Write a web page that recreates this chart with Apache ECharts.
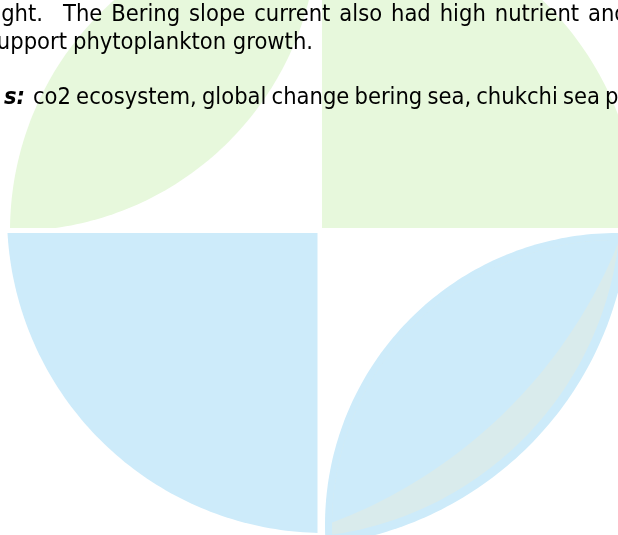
<!DOCTYPE html>
<html>
<head>
<meta charset="utf-8">
<script src="https://cdn.jsdelivr.net/npm/echarts@6/dist/echarts.min.js"></script>
<style>html,body{margin:0;padding:0;background:#fff}#c{width:618px;height:535px}</style>
</head>
<body>
<div id="c"></div>
<script>
// ---- content (text) ----
const line1Words = ['ght.', 'The', 'Bering', 'slope', 'current', 'also', 'had', 'high', 'nutrient', 'and'];
const line2Words = ['upport', 'phytoplankton', 'growth.'];
const keywordLabel = 's:';
const keywordWords = ['co2', 'ecosystem,', 'global', 'change', 'bering', 'sea,', 'chukchi', 'sea', 'p'];

// ---- logo pieces ----
const pieces = ['top-left leaf', 'top-right quarter', 'bottom-left quarter', 'bottom-right leaf', 'leaf vein', 'leaf body'];

// ---- layout (positions, sizes, styles) ----
const line1FirstRight = 43;   // end of the cut first word
const line1Span = [63, 588];  // start of 2nd word, start of last word (justified)
const line2FirstRight = 67;
const line2Start = 73;
const keywordLabelRight = 25;
const keywordSpan = [33, 605];
const baselines = [21.5, 50, 105];
const FONT = '"DejaVu Sans Condensed", "Liberation Sans", sans-serif';
const FS = 23.5;

const GREEN = '#e7f8dc', BLUE = '#cdebfa', VEIN = '#d9ebec';
const pieceColors = [GREEN, GREEN, BLUE, BLUE, VEIN, BLUE];

// geometry in axis units (axis spans the whole canvas)
const disc = (cx, cy, r) => ({ t: 'disc', cx, cy, r });
const half = (f) => ({ t: 'half', f });
const pieceGeom = [
  [disc(318, 231, 308), disc(13, -74, 305), half(p => 228 - p[1]), half(p => 318 - p[0])],
  [disc(322, 228, 317), half(p => 228 - p[1]), half(p => p[0] - 322)],
  [disc(325, 215, 318), half(p => p[1] - 233), half(p => 317.5 - p[0])],
  [disc(285, 202, 345), disc(617, 525, 292), half(p => p[1] - 233), half(p => p[0] - 322)],
  [disc(285, 202, 336), disc(617, 525, 285), half(p => p[1] - 233), half(p => p[0] - 322)],
  [disc(285, 202, 336), disc(617, 525, 285), disc(155, 55, 500), half(p => p[1] - 233), half(p => p[0] - 322)]
];

function clipBy(poly, s) {
  const out = [];
  for (let i = 0; i < poly.length; i++) {
    const P = poly[i], Q = poly[(i + 1) % poly.length];
    const sp = s(P), sq = s(Q);
    if (sp >= 0) out.push(P);
    if ((sp >= 0) !== (sq >= 0)) {
      const t = sp / (sp - sq);
      out.push([P[0] + t * (Q[0] - P[0]), P[1] + t * (Q[1] - P[1])]);
    }
  }
  return out;
}
function buildPoly(geom) {
  let poly = [[-2000, -2000], [3000, -2000], [3000, 3000], [-2000, 3000]];
  geom.forEach(g => {
    if (g.t === 'half') { poly = clipBy(poly, g.f); return; }
    const n = 360;
    for (let k = 0; k < n && poly.length; k++) {
      const a0 = 2 * Math.PI * k / n, a1 = 2 * Math.PI * (k + 1) / n;
      const A = [g.cx + g.r * Math.cos(a0), g.cy + g.r * Math.sin(a0)];
      const B = [g.cx + g.r * Math.cos(a1), g.cy + g.r * Math.sin(a1)];
      const cr = (p) => (B[0] - A[0]) * (p[1] - A[1]) - (B[1] - A[1]) * (p[0] - A[0]);
      const sg = Math.sign(cr([g.cx, g.cy]));
      poly = clipBy(poly, p => cr(p) * sg);
    }
  });
  return poly;
}
const piecePolys = pieceGeom.map(buildPoly);

// text measuring for justified placement
const mctx = document.createElement('canvas').getContext('2d');
mctx.font = FS + 'px ' + FONT;
const tw = (s) => mctx.measureText(s).width;
function justify(words, x0, xLast) {
  const widths = words.map(tw);
  const inner = widths.slice(0, -1).reduce((a, b) => a + b, 0);
  const gap = (xLast - x0 - inner) / (words.length - 1);
  const xs = [];
  let x = x0;
  words.forEach((w, i) => { xs.push(x); x += widths[i] + gap; });
  return xs;
}
function natural(words, x0) {
  const sp = tw(' ');
  const xs = [];
  let x = x0;
  words.forEach(w => { xs.push(x); x += tw(w) + sp; });
  return xs;
}

function word(text, x, y, align, extra) {
  return {
    type: 'text', z: 100, silent: true,
    style: Object.assign({
      text, x, y, fill: '#000', align: align || 'left', verticalAlign: 'middle',
      fontSize: FS, fontFamily: FONT
    }, extra || {})
  };
}
const graphics = [];
const off = 0.3 * FS;
graphics.push(word(line1Words[0], line1FirstRight, baselines[0] - off, 'right'));
const l1 = line1Words.slice(1);
justify(l1, line1Span[0], line1Span[1]).forEach((x, i) => graphics.push(word(l1[i], x, baselines[0] - off)));
graphics.push(word(line2Words[0], line2FirstRight, baselines[1] - off, 'right'));
const l2 = line2Words.slice(1);
natural(l2, line2Start).forEach((x, i) => graphics.push(word(l2[i], x, baselines[1] - off)));
graphics.push(word(keywordLabel, keywordLabelRight, baselines[2] - off, 'right', { fontWeight: 'bold', fontStyle: 'italic' }));
justify(keywordWords, keywordSpan[0], keywordSpan[1]).forEach((x, i) => graphics.push(word(keywordWords[i], x, baselines[2] - off)));

const chart = echarts.init(document.getElementById('c'), null, { renderer: 'canvas' });
chart.setOption({
  animation: false,
  backgroundColor: '#ffffff',
  grid: { left: 0, right: 0, top: 0, bottom: 0 },
  xAxis: { type: 'value', min: 0, max: 618, show: false },
  yAxis: { type: 'value', min: 0, max: 535, inverse: true, show: false },
  series: [{
    type: 'custom',
    coordinateSystem: 'cartesian2d',
    silent: true,
    clip: false,
    data: pieces.map((name, i) => ({ name, value: [i, i] })),
    renderItem: function (params, api) {
      const idx = params.dataIndex;
      const pts = piecePolys[idx].map(p => api.coord(p));
      return { type: 'polygon', shape: { points: pts }, style: { fill: pieceColors[idx] } };
    }
  }],
  graphic: graphics
});
</script>
</body>
</html>
